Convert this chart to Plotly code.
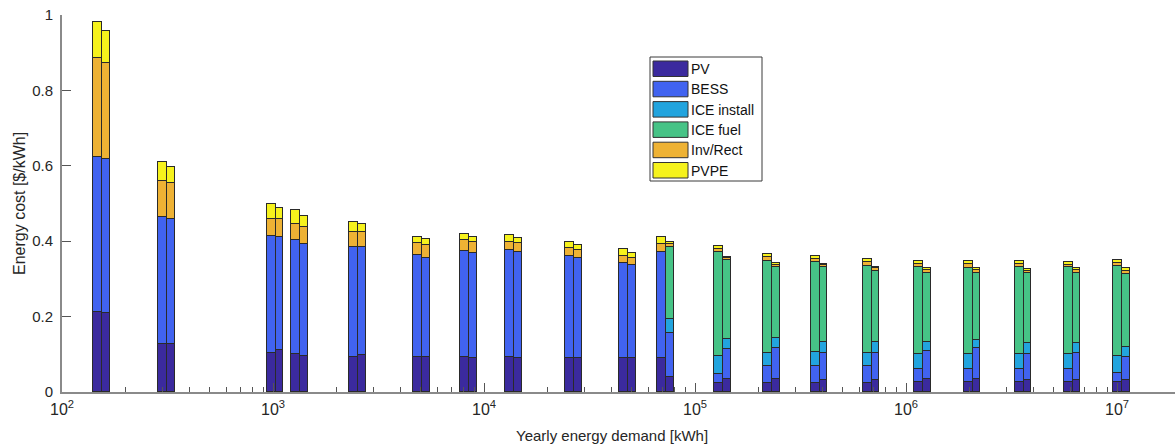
import math
import plotly.graph_objects as go

# ---------------- data ----------------
demand_kwh = [155, 315, 1030, 1346, 2535, 5100, 8520, 13900, 26800, 48300,
              72900, 136000, 232000, 391000, 687000, 1.21e6, 2.07e6, 3.61e6, 6.17e6, 1.06e7]

series_names = ["PV", "BESS", "ICE install", "ICE fuel", "Inv/Rect", "PVPE"]
series_colors = ["#3b2a9e", "#4163f0", "#22a4de", "#46c386", "#eeb234", "#f6f21c"]

# left bar of each pair (segment heights, $/kWh)
pv_left   = [0.211, 0.127, 0.103, 0.101, 0.092, 0.092, 0.092, 0.092, 0.089, 0.089,
             0.089, 0.024, 0.024, 0.024, 0.024, 0.026, 0.026, 0.026, 0.026, 0.026]
bess_left = [0.413, 0.336, 0.310, 0.301, 0.293, 0.271, 0.282, 0.285, 0.271, 0.252,
             0.282, 0.023, 0.045, 0.045, 0.045, 0.035, 0.034, 0.034, 0.034, 0.024]
icei_left = [0, 0, 0, 0, 0, 0, 0, 0, 0, 0,
             0, 0.049, 0.034, 0.036, 0.034, 0.039, 0.040, 0.041, 0.041, 0.046]
icef_left = [0, 0, 0, 0, 0, 0, 0, 0, 0, 0,
             0, 0.276, 0.245, 0.239, 0.230, 0.231, 0.230, 0.230, 0.230, 0.239]
inv_left  = [0.261, 0.096, 0.047, 0.044, 0.040, 0.031, 0.029, 0.020, 0.023, 0.019,
             0.021, 0.007, 0.010, 0.010, 0.013, 0.009, 0.010, 0.008, 0.006, 0.008]
pvpe_left = [0.097, 0.051, 0.038, 0.036, 0.027, 0.018, 0.016, 0.019, 0.016, 0.018,
             0.020, 0.008, 0.007, 0.007, 0.006, 0.008, 0.007, 0.008, 0.007, 0.006]

# right bar of each pair
pv_right   = [0.209, 0.127, 0.111, 0.096, 0.098, 0.092, 0.089, 0.089, 0.089, 0.089,
              0.040, 0.034, 0.034, 0.032, 0.031, 0.034, 0.034, 0.032, 0.032, 0.031]
bess_right = [0.410, 0.331, 0.299, 0.297, 0.287, 0.263, 0.280, 0.283, 0.266, 0.247,
              0.117, 0.080, 0.082, 0.071, 0.072, 0.074, 0.082, 0.068, 0.071, 0.063]
icei_right = [0, 0, 0, 0, 0, 0, 0, 0, 0, 0,
              0.037, 0.027, 0.026, 0.029, 0.029, 0.025, 0.022, 0.029, 0.026, 0.025]
icef_right = [0, 0, 0, 0, 0, 0, 0, 0, 0, 0,
              0.190, 0.209, 0.190, 0.199, 0.189, 0.182, 0.178, 0.187, 0.186, 0.195]
inv_right  = [0.255, 0.096, 0.050, 0.046, 0.039, 0.034, 0.030, 0.022, 0.022, 0.019,
              0.008, 0.006, 0.006, 0.006, 0.007, 0.008, 0.007, 0.006, 0.008, 0.008]
pvpe_right = [0.084, 0.042, 0.028, 0.027, 0.021, 0.016, 0.011, 0.014, 0.012, 0.013,
              0.005, 0.003, 0.004, 0.003, 0.004, 0.005, 0.005, 0.004, 0.005, 0.006]

x_tick_exponents = [2, 3, 4, 5, 6, 7]
y_tick_values = [0, 0.2, 0.4, 0.6, 0.8, 1]
y_tick_labels = ["0", "0.2", "0.4", "0.6", "0.8", "1"]

# ---------------- layout geometry ----------------
W, H = 1175, 447
ML, MR, MT, MB = 62, 0, 15, 55
PW, PH = W - ML - MR, H - MT - MB
DECADE_PX = 211.0
x_min = 2.0
x_max = x_min + PW / DECADE_PX

w_left = 9.0 / DECADE_PX
w_right = 7.5 / DECADE_PX

logx = [math.log10(d) for d in demand_kwh]
x_left = [v - w_left / 2 for v in logx]
x_right = [v + w_right / 2 for v in logx]

left_sets = [pv_left, bess_left, icei_left, icef_left, inv_left, pvpe_left]
right_sets = [pv_right, bess_right, icei_right, icef_right, inv_right, pvpe_right]

fig = go.Figure()
edge = dict(color="#2a2a2a", width=1)
for name, col, yl, yr in zip(series_names, series_colors, left_sets, right_sets):
    fig.add_trace(go.Bar(x=x_left, y=yl, width=[w_left] * len(x_left), name=name,
                         marker=dict(color=col, line=edge), showlegend=False))
    fig.add_trace(go.Bar(x=x_right, y=yr, width=[w_right] * len(x_right), name=name,
                         marker=dict(color=col, line=edge), showlegend=False))

minor_vals = []
for e in range(2, 8):
    for k in range(2, 10):
        v = e + math.log10(k)
        if v < x_max:
            minor_vals.append(v)

font_main = "Liberation Sans, Arial, sans-serif"

fig.update_layout(
    width=W, height=H,
    margin=dict(l=ML, r=MR, t=MT, b=MB),
    paper_bgcolor="white", plot_bgcolor="white",
    barmode="stack", bargap=0,
    font=dict(family=font_main, size=15, color="#262626"),
    xaxis=dict(range=[x_min, x_max], showgrid=False, zeroline=False,
               showline=True, linecolor="#8a8a8a", linewidth=2,
               ticks="inside", ticklen=9, tickcolor="#555555", tickwidth=1,
               tickmode="array", tickvals=x_tick_exponents,
               ticktext=["10<sup>%d</sup>" % e for e in x_tick_exponents],
               tickfont=dict(size=16, color="#262626"), ticklabelstandoff=2,
               minor=dict(tickmode="array", tickvals=minor_vals, ticks="inside",
                          ticklen=5, tickcolor="#555555", tickwidth=1, showgrid=False)),
    yaxis=dict(range=[0, 1], showgrid=False, zeroline=False,
               showline=True, linecolor="#8a8a8a", linewidth=2,
               ticks="inside", ticklen=9, tickcolor="#555555",
               tickmode="array", tickvals=y_tick_values, ticktext=y_tick_labels,
               tickfont=dict(size=15, color="#262626"), ticklabelstandoff=4),
)


def px_to_paper(px, py):
    return (px - ML) / PW, (H - MB - py) / PH


# axis titles
ax, ay = px_to_paper(612, 436)
fig.add_annotation(x=ax, y=ay, xref="paper", yref="paper", text="Yearly energy demand [kWh]",
                   showarrow=False, xanchor="center", yanchor="middle",
                   font=dict(size=15, color="#262626"))
ax, ay = px_to_paper(19, 204)
fig.add_annotation(x=ax, y=ay, xref="paper", yref="paper", text="Energy cost [$/kWh]",
                   showarrow=False, textangle=-90, xanchor="center", yanchor="middle",
                   font=dict(size=16, color="#262626"))

# legend (drawn manually to get wide MATLAB-style swatches)
bx0, by0 = px_to_paper(650, 181)
bx1, by1 = px_to_paper(762, 57)
fig.add_shape(type="rect", xref="paper", yref="paper", x0=bx0, y0=by0, x1=bx1, y1=by1,
              line=dict(color="#3a3a3a", width=1), fillcolor="white", layer="above")
for i, (name, col) in enumerate(zip(series_names, series_colors)):
    top = 61 + i * 20.3
    sx0, sy0 = px_to_paper(653, top + 15.5)
    sx1, sy1 = px_to_paper(688, top)
    fig.add_shape(type="rect", xref="paper", yref="paper", x0=sx0, y0=sy0, x1=sx1, y1=sy1,
                  line=dict(color="#333333", width=1), fillcolor=col, layer="above")
    tx, ty = px_to_paper(689, top + 8)
    fig.add_annotation(x=tx, y=ty, xref="paper", yref="paper", text=name, showarrow=False,
                       xanchor="left", yanchor="middle", font=dict(size=14, color="#111111"))

fig.write_html("out.html")
